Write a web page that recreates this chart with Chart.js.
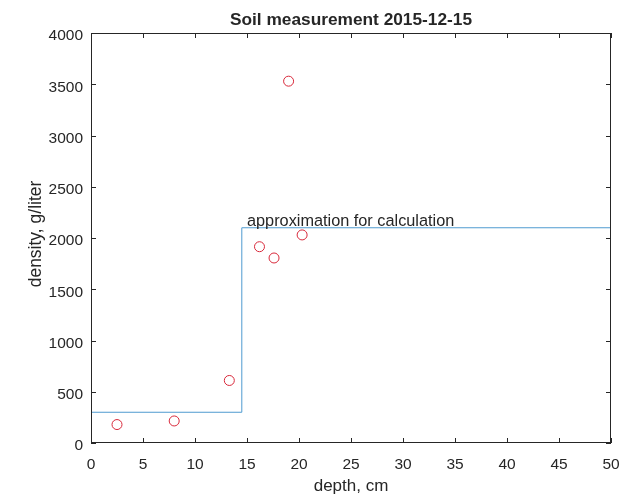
<!DOCTYPE html>
<html>
<head>
<meta charset="utf-8">
<script src="https://cdn.jsdelivr.net/npm/chart.js@4"></script>
<style>
  body { margin: 0; background: #fff; }
  canvas { display: block; }
</style>
</head>
<body>
<canvas id="soil" width="632" height="497"></canvas>
<script>
// measured points
const depth = [2.5, 8, 13.3, 16.2, 17.6, 19, 20.3];
const density = [180, 215, 610, 1915, 1805, 3530, 2030];

// step approximation
const stepDepth = [0, 14.5, 14.5, 50];
const stepDensity = [300, 300, 2100, 2100];

const xTicks = [0, 5, 10, 15, 20, 25, 30, 35, 40, 45, 50];
const yTicks = [0, 500, 1000, 1500, 2000, 2500, 3000, 3500, 4000];

const titleText = 'Soil measurement 2015-12-15';
const xLabel = 'depth, cm';
const yLabel = 'density, g/liter';
const note = 'approximation for calculation';
const notePos = [15, 2100];

const ink = '#262626';
const font = '"Liberation Sans", Arial, sans-serif';

// box, inward ticks, titles and the text note
const matlabAxes = {
  id: 'matlabAxes',
  afterDraw(chart) {
    const { ctx, chartArea: a, scales: { x, y } } = chart;
    ctx.save();
    ctx.strokeStyle = ink;
    ctx.lineWidth = 1;
    ctx.strokeRect(a.left + 0.5, a.top + 0.5, a.right - a.left - 1, a.bottom - a.top - 1);
    const len = 5;
    ctx.beginPath();
    xTicks.forEach(v => {
      const px = Math.round(x.getPixelForValue(v)) + 0.5;
      ctx.moveTo(px, a.bottom); ctx.lineTo(px, a.bottom - len);
      ctx.moveTo(px, a.top); ctx.lineTo(px, a.top + len);
    });
    yTicks.forEach(v => {
      const py = Math.round(y.getPixelForValue(v)) + 0.5;
      ctx.moveTo(a.left, py); ctx.lineTo(a.left + len, py);
      ctx.moveTo(a.right, py); ctx.lineTo(a.right - len, py);
    });
    ctx.stroke();

    ctx.fillStyle = ink;
    ctx.textAlign = 'center';
    ctx.textBaseline = 'alphabetic';
    ctx.font = 'bold 17.3px ' + font;
    ctx.fillText(titleText, (a.left + a.right) / 2, 25);

    ctx.font = '17px ' + font;
    ctx.fillText(xLabel, (a.left + a.right) / 2, 491);

    ctx.save();
    ctx.translate(41, 234);
    ctx.rotate(-Math.PI / 2);
    ctx.font = '17.5px ' + font;
    ctx.fillText(yLabel, 0, 0);
    ctx.restore();

    ctx.textAlign = 'left';
    ctx.font = '16.3px ' + font;
    ctx.fillText(note, x.getPixelForValue(notePos[0]), y.getPixelForValue(notePos[1]) - 2);
    ctx.restore();
  }
};

new Chart(document.getElementById('soil'), {
  type: 'scatter',
  data: {
    datasets: [{
      label: 'approximation',
      type: 'line',
      data: stepDepth.map((d, i) => ({ x: d, y: stepDensity[i] })),
      borderColor: '#4f9bd0',
      borderWidth: 1,
      pointRadius: 0,
      fill: false,
      tension: 0
    }, {
      label: 'measured',
      data: depth.map((d, i) => ({ x: d, y: density[i] })),
      pointStyle: 'circle',
      pointRadius: 5,
      pointBorderWidth: 1,
      pointBorderColor: '#d8283a',
      pointBackgroundColor: 'rgba(0,0,0,0)'
    }]
  },
  options: {
    responsive: false,
    animation: false,
    layout: { padding: { top: 33, right: 21, left: 0, bottom: 0 } },
    plugins: {
      legend: { display: false },
      tooltip: { enabled: false }
    },
    scales: {
      x: {
        type: 'linear',
        min: 0,
        max: 50,
        afterFit(s) { s.height = 54; },
        afterBuildTicks(s) { s.ticks = xTicks.map(v => ({ value: v })); },
        grid: { display: false },
        border: { display: false },
        ticks: { color: ink, padding: 4, maxRotation: 0, font: { size: 15.5, family: font }, callback: v => String(v) }
      },
      y: {
        min: 0,
        max: 4000,
        afterFit(s) { s.width = 91; },
        afterBuildTicks(s) { s.ticks = yTicks.map(v => ({ value: v })); },
        grid: { display: false },
        border: { display: false },
        ticks: { color: ink, padding: 0, labelOffset: 3, font: { size: 15.5, family: font }, callback: v => String(v) }
      }
    }
  },
  plugins: [matlabAxes]
});
</script>
</body>
</html>
